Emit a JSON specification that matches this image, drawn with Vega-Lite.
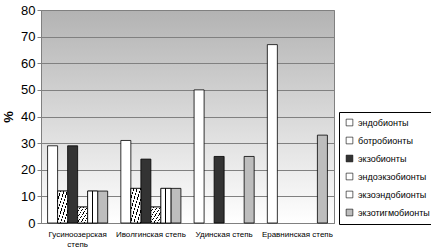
{
  "$schema": "https://vega.github.io/schema/vega-lite/v6.json",
  "width": 293,
  "height": 213,
  "autosize": "none",
  "padding": {"left": 41, "top": 10, "right": 97, "bottom": 26},
  "background": "#ffffff",
  "config": {
    "font": "Liberation Sans",
    "view": {
      "stroke": "#808080",
      "strokeWidth": 1,
      "fill": {"gradient": "linear", "x1": 0, "y1": 0, "x2": 0, "y2": 1,
        "stops": [{"offset": 0, "color": "#b3b3b3"}, {"offset": 1, "color": "#ffffff"}]}
    }
  },
  "data": {
    "values": [
      {"region": "Гусиноозерская степь", "series": "эндобионты", "value": 29},
      {"region": "Гусиноозерская степь", "series": "ботробионты", "value": 12},
      {"region": "Гусиноозерская степь", "series": "экзобионты", "value": 29},
      {"region": "Гусиноозерская степь", "series": "эндоэкзобионты", "value": 6},
      {"region": "Гусиноозерская степь", "series": "экзоэндобионты", "value": 12},
      {"region": "Гусиноозерская степь", "series": "экзотигмобионты", "value": 12},
      {"region": "Иволгинская степь", "series": "эндобионты", "value": 31},
      {"region": "Иволгинская степь", "series": "ботробионты", "value": 13},
      {"region": "Иволгинская степь", "series": "экзобионты", "value": 24},
      {"region": "Иволгинская степь", "series": "эндоэкзобионты", "value": 6},
      {"region": "Иволгинская степь", "series": "экзоэндобионты", "value": 13},
      {"region": "Иволгинская степь", "series": "экзотигмобионты", "value": 13},
      {"region": "Удинская степь", "series": "эндобионты", "value": 50},
      {"region": "Удинская степь", "series": "экзобионты", "value": 25},
      {"region": "Удинская степь", "series": "экзотигмобионты", "value": 25},
      {"region": "Еравнинская степь", "series": "эндобионты", "value": 67},
      {"region": "Еравнинская степь", "series": "экзотигмобионты", "value": 33}
    ]
  },
  "encoding": {
    "x": {
      "field": "region", "type": "nominal", "sort": null,
      "scale": {"paddingInner": 0.18, "paddingOuter": 0.09},
      "axis": {
        "title": null, "labelAngle": 0, "labelFontSize": 8, "labelColor": "#000000",
        "labelExpr": "datum.label == 'Гусиноозерская степь' ? ['Гусиноозерская', 'степь'] : datum.label",
        "ticks": false, "domainColor": "#808080", "labelPadding": 7, "labelLineHeight": 10
      }
    },
    "xOffset": {
      "field": "series", "type": "nominal",
      "scale": {"domain": ["эндобионты", "ботробионты", "экзобионты", "эндоэкзобионты", "экзоэндобионты", "экзотигмобионты"], "paddingInner": 0, "paddingOuter": 0}
    },
    "y": {
      "field": "value", "type": "quantitative",
      "scale": {"domain": [0, 80], "nice": false},
      "axis": {
        "title": "%", "titleFontSize": 13, "titleFontWeight": "bold", "titleColor": "#000000", "titlePadding": 5,
        "values": [0, 10, 20, 30, 40, 50, 60, 70, 80],
        "labelFontSize": 13, "labelColor": "#000000",
        "gridColor": "#808080", "gridOpacity": 1,
        "domainColor": "#808080", "tickColor": "#808080", "tickSize": 4
      }
    }
  },
  "layer": [
    {
      "mark": {"type": "bar", "stroke": "#000000", "strokeWidth": 0.8},
      "encoding": {
        "fill": {
          "field": "series", "type": "nominal",
          "scale": {
            "domain": ["эндобионты", "ботробионты", "экзобионты", "эндоэкзобионты", "экзоэндобионты", "экзотигмобионты"],
            "range": ["#ffffff", "#ffffff", "#333333", "#ffffff", "#ffffff", "#bdbdbd"]
          },
          "legend": {
            "title": null, "orient": "none", "legendX": 298, "legendY": 102,
            "strokeColor": "#000000", "fillColor": "#ffffff", "padding": 6,
            "labelFontSize": 9, "labelColor": "#000000", "symbolType": "square", "symbolSize": 45,
            "symbolStrokeColor": "#000000", "symbolStrokeWidth": 0.6, "rowPadding": 7, "labelOffset": 4
          }
        }
      }
    },
    {
      "transform": [{"filter": "datum.series == 'ботробионты' || datum.series == 'эндоэкзобионты'"}],
      "mark": {
        "type": "bar", "stroke": "#000000", "strokeWidth": 0.8,
        "fill": {"gradient": "linear", "x1": 0, "y1": 0, "x2": 1, "y2": 1,
          "stops": [
            {"offset": 0, "color": "#ffffff"}, {"offset": 0.13, "color": "#ffffff"}, {"offset": 0.13, "color": "#000000"}, {"offset": 0.167, "color": "#000000"},
            {"offset": 0.167, "color": "#ffffff"}, {"offset": 0.297, "color": "#ffffff"}, {"offset": 0.297, "color": "#000000"}, {"offset": 0.333, "color": "#000000"},
            {"offset": 0.333, "color": "#ffffff"}, {"offset": 0.463, "color": "#ffffff"}, {"offset": 0.463, "color": "#000000"}, {"offset": 0.5, "color": "#000000"},
            {"offset": 0.5, "color": "#ffffff"}, {"offset": 0.63, "color": "#ffffff"}, {"offset": 0.63, "color": "#000000"}, {"offset": 0.667, "color": "#000000"},
            {"offset": 0.667, "color": "#ffffff"}, {"offset": 0.797, "color": "#ffffff"}, {"offset": 0.797, "color": "#000000"}, {"offset": 0.833, "color": "#000000"},
            {"offset": 0.833, "color": "#ffffff"}, {"offset": 0.963, "color": "#ffffff"}, {"offset": 0.963, "color": "#000000"}, {"offset": 1, "color": "#000000"}
          ]}
      }
    },
    {
      "transform": [{"filter": "datum.series == 'экзоэндобионты'"}],
      "mark": {
        "type": "bar", "stroke": "#000000", "strokeWidth": 0.8,
        "fill": {"gradient": "linear", "x1": 0, "y1": 0, "x2": 1, "y2": 0,
          "stops": [
            {"offset": 0, "color": "#ffffff"}, {"offset": 0.45, "color": "#ffffff"}, {"offset": 0.45, "color": "#000000"},
            {"offset": 0.56, "color": "#000000"}, {"offset": 0.56, "color": "#ffffff"}, {"offset": 1, "color": "#ffffff"}
          ]}
      }
    }
  ]
}
